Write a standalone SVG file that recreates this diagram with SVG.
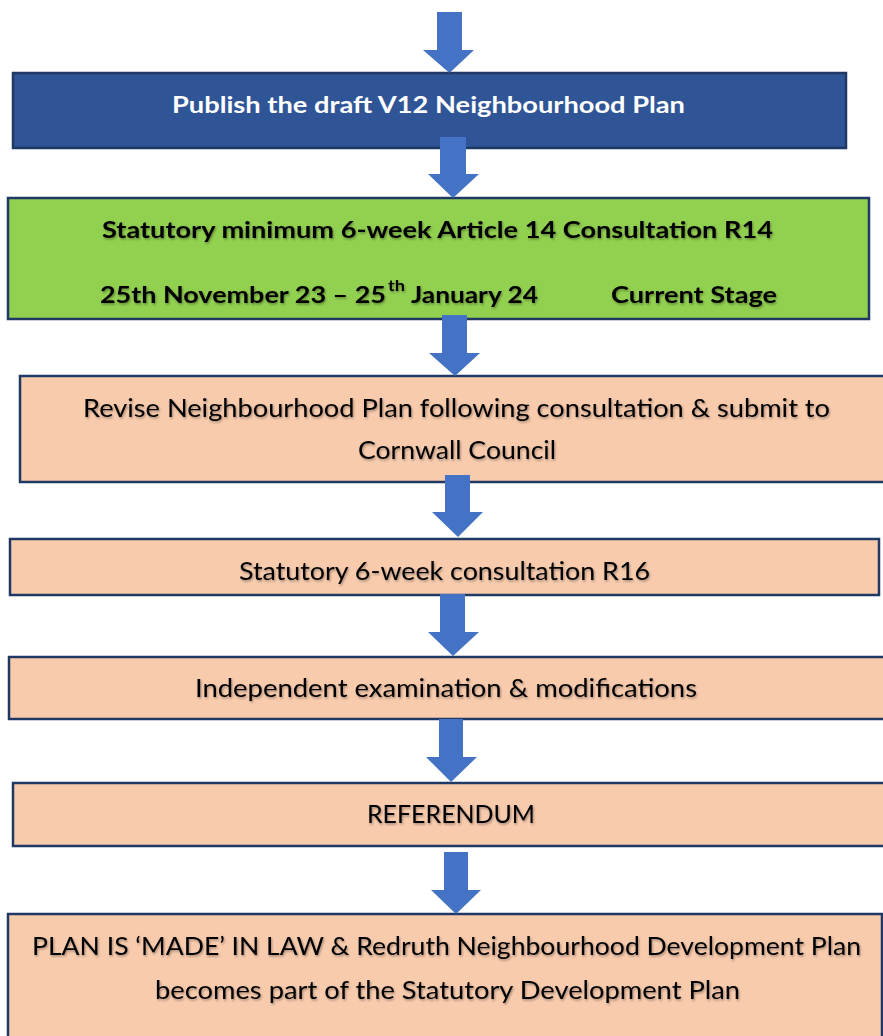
<svg xmlns="http://www.w3.org/2000/svg" width="883" height="1036" viewBox="0 0 883 1036">
<defs>
<filter id="sh" x="-5%" y="-30%" width="110%" height="160%">
<feDropShadow dx="1" dy="1.5" stdDeviation="0.8" flood-color="#000" flood-opacity="0.35"/>
</filter>
</defs>
<style>
.box{stroke:#1F3864;stroke-width:2.5}
.blue{fill:#2F5597}
.green{fill:#92D050}
.peach{fill:#F8CBAD}
.arrow{fill:#4472C4}
.b{font-family:Lato,"Open Sans","Liberation Sans",sans-serif;font-weight:bold;font-size:23.5px;fill:#000}
.r{font-family:Lato,"Open Sans","Liberation Sans",sans-serif;font-size:25.5px;fill:#000}
.w{fill:#fff}
.s{filter:url(#sh)}
</style>
<rect width="883" height="1036" fill="#fff"/>
<g id="n1">
<rect class="box blue" x="13" y="73" width="833" height="75"/>
<text class="b w" x="172" y="113" textLength="513" lengthAdjust="spacingAndGlyphs">Publish the draft V12 Neighbourhood Plan</text>
</g>
<g id="n2">
<rect class="box green" x="8" y="198" width="861" height="121"/>
<g class="s">
<text class="b" x="102" y="238" textLength="671" lengthAdjust="spacingAndGlyphs">Statutory minimum 6-week Article 14 Consultation R14</text>
<text class="b" x="100" y="303" textLength="286" lengthAdjust="spacingAndGlyphs">25th November 23 – 25</text>
<text class="b" x="388" y="291" style="font-size:15px" textLength="17" lengthAdjust="spacingAndGlyphs">th</text>
<text class="b" x="411" y="303" textLength="127" lengthAdjust="spacingAndGlyphs">January 24</text>
<text class="b" x="611" y="303" textLength="166" lengthAdjust="spacingAndGlyphs">Current Stage</text>
</g>
</g>
<g id="n3">
<rect class="box peach" x="20" y="376" width="875" height="106"/>
<g class="s">
<text class="r" x="83" y="417" textLength="747" lengthAdjust="spacingAndGlyphs">Revise Neighbourhood Plan following consultation &amp; submit to</text>
<text class="r" x="358" y="459" textLength="198" lengthAdjust="spacingAndGlyphs">Cornwall Council</text>
</g>
</g>
<g id="n4">
<rect class="box peach" x="10" y="539" width="869" height="56"/>
<text class="r s" x="239" y="580" textLength="411" lengthAdjust="spacingAndGlyphs">Statutory 6-week consultation R16</text>
</g>
<g id="n5">
<rect class="box peach" x="9" y="657" width="876" height="62"/>
<text class="r s" x="195" y="697" textLength="502" lengthAdjust="spacingAndGlyphs">Independent examination &amp; modifications</text>
</g>
<g id="n6">
<rect class="box peach" x="13" y="783" width="876" height="63"/>
<text class="r s" x="367" y="823" textLength="168" lengthAdjust="spacingAndGlyphs">REFERENDUM</text>
</g>
<g id="n7">
<rect class="box peach" x="8" y="914" width="874" height="140"/>
<g class="s">
<text class="r" x="32" y="955" textLength="829" lengthAdjust="spacingAndGlyphs">PLAN IS ‘MADE’ IN LAW &amp; Redruth Neighbourhood Development Plan</text>
<text class="r" x="155" y="999" textLength="585" lengthAdjust="spacingAndGlyphs">becomes part of the Statutory Development Plan</text>
</g>
</g>
<g id="connectors">
<polygon class="arrow" points="437,12 462,12 462,50 474,50 449.5,73 423,50 437,50"/>
<polygon class="arrow" points="440,137 466,137 466,174 479,174 453,198 428,174 440,174"/>
<polygon class="arrow" points="442,315 467,315 467,353 480,353 455,376 429,353 442,353"/>
<polygon class="arrow" points="445,475 470,475 470,512 483,512 458,537 432,512 445,512"/>
<polygon class="arrow" points="440,594 465,594 465,632 479,632 453,656 428,632 440,632"/>
<polygon class="arrow" points="439,719 463,719 463,757 477,757 451,782 426,757 439,757"/>
<polygon class="arrow" points="444,852 468,852 468,890 481,890 456,914 431,890 444,890"/>
</g>
</svg>
